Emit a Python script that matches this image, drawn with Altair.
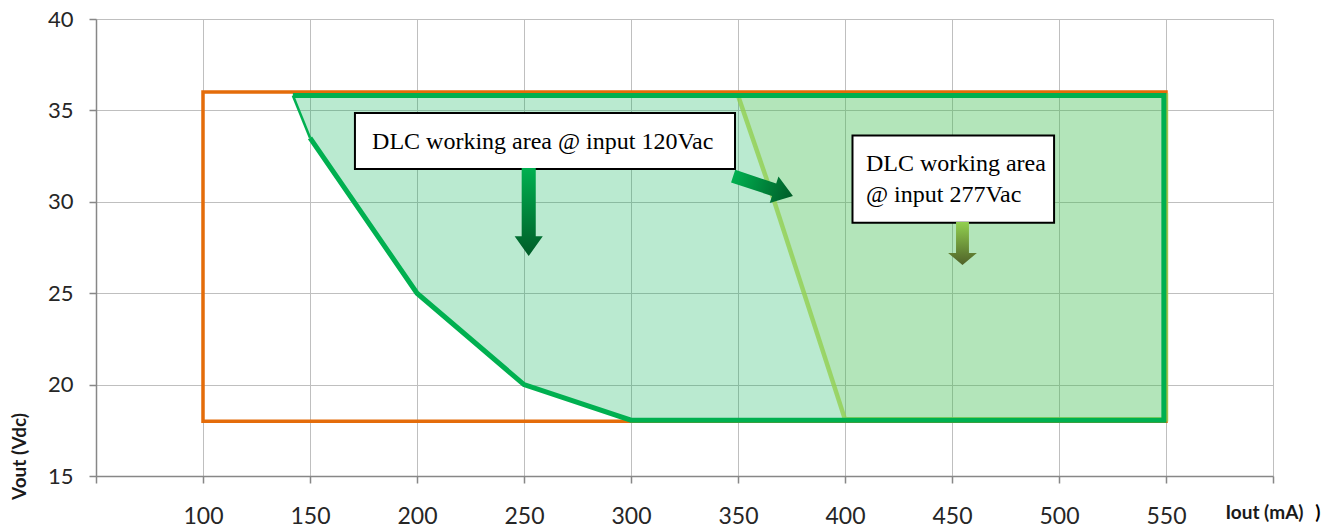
import altair as alt
import pandas as pd

# ---------------- data ----------------
x_ticks = [50, 100, 150, 200, 250, 300, 350, 400, 450, 500, 550, 600]
y_ticks = [15, 20, 25, 30, 35, 40]

# orange limit box (Iout mA, Vout Vdc)
limit_x1, limit_x2 = [100], [550]
limit_y1, limit_y2 = [18], [36]

# 120Vac working area (lower boundary, top at w120_top)
w120_x = [142, 150, 200, 250, 300, 549]
w120_y = [35.82, 33.5, 25, 20, 18.05, 18.05]
w120_top = 35.82

# 120Vac outline
o120_x = [150, 200, 250, 300, 549, 549, 142]
o120_y = [33.5, 25, 20, 18.05, 18.05, 35.82, 35.82]
o120_thin_x = [142, 150]
o120_thin_y = [35.82, 33.5]

# 277Vac working area
w277_x = [350, 367, 400, 550]
w277_y = [35.82, 30, 18.1, 18.1]
w277_top = 35.82
o277_x = [350, 367, 400, 550, 550, 350]
o277_y = [35.82, 30, 18.1, 18.1, 35.82, 35.82]

# annotation boxes
box_x1 = [171.0, 403.5]
box_x2 = [348.6, 497.7]
box_y1 = [34.86, 33.63]
box_y2 = [31.79, 28.86]
label_text = ["DLC working area @ input 120Vac", "DLC working area\n@ input 277Vac"]
label_x = [179.0, 409.8]
label_y = [32.89, 31.68]

# arrows (centre positions)
arrow_x = [252.2, 361.7, 454.9]
arrow_y = [29.44, 30.86, 27.72]

# stray character next to axis title
stray_text = [")"]
stray_x = [621]
stray_y = [13.0]

# ---------------- chart ----------------
FONT = "Lato"
xscale = alt.Scale(domain=[50, 600], nice=False, zero=False)
yscale = alt.Scale(domain=[15, 40], nice=False, zero=False)

xaxis = alt.Axis(
    values=x_ticks,
    labelExpr="(datum.value < 100 || datum.value > 550) ? '' : datum.label",
    title="Iout (mA)", titleX=1168, titleY=36, titleAlign="center",
    titleBaseline="middle", titleAngle=0,
    labelPadding=22, tickSize=7, labelFontSize=23,
)
yaxis = alt.Axis(
    values=y_ticks, title="Vout (Vdc)", titleX=-77, titleY=437,
    titleAngle=270, titleAlign="center", titleBaseline="middle",
    labelPadding=16, tickSize=7, labelFontSize=22,
)


def X(field="x"):
    return alt.X(f"{field}:Q", scale=xscale, axis=xaxis)


def Y(field="y"):
    return alt.Y(f"{field}:Q", scale=yscale, axis=yaxis)


base_grid = alt.Chart(pd.DataFrame({"x": [50], "y": [15]})).mark_point(opacity=0).encode(x=X(), y=Y())

df120 = pd.DataFrame({"x": w120_x, "y": w120_y, "y2": [w120_top] * len(w120_x)})
area120 = alt.Chart(df120).mark_area(color="#00B050", opacity=0.27).encode(
    x=X(), y=Y(), y2="y2:Q")

df277 = pd.DataFrame({"x": w277_x, "y": w277_y, "y2": [w277_top] * len(w277_x)})
area277 = alt.Chart(df277).mark_area(color="#92D050", opacity=0.17).encode(
    x=X(), y=Y(), y2="y2:Q")

dfl = pd.DataFrame({"x": limit_x1, "x2": limit_x2, "y": limit_y1, "y2": limit_y2})
limit = alt.Chart(dfl).mark_rect(filled=False, stroke="#E46C0A", strokeWidth=3.5).encode(
    x=X(), x2="x2:Q", y=Y(), y2="y2:Q")

do277 = pd.DataFrame({"x": o277_x, "y": o277_y, "o": list(range(len(o277_x)))})
line277 = alt.Chart(do277).mark_line(color="#92D050", strokeWidth=4.5, opacity=0.8).encode(
    x=X(), y=Y(), order="o:Q")

do120 = pd.DataFrame({"x": o120_x, "y": o120_y, "o": list(range(len(o120_x)))})
line120 = alt.Chart(do120).mark_line(color="#00B050", strokeWidth=5).encode(
    x=X(), y=Y(), order="o:Q")

dthin = pd.DataFrame({"x": o120_thin_x, "y": o120_thin_y, "o": [0, 1]})
thin120 = alt.Chart(dthin).mark_line(color="#00B050", strokeWidth=2.5).encode(
    x=X(), y=Y(), order="o:Q")

dbox = pd.DataFrame({"x": box_x1, "x2": box_x2, "y": box_y1, "y2": box_y2})
boxes = alt.Chart(dbox).mark_rect(fill="white", stroke="black", strokeWidth=2).encode(
    x=X(), x2="x2:Q", y=Y(), y2="y2:Q")

dlab = pd.DataFrame({"x": label_x, "y": label_y, "t": label_text})
labels = alt.Chart(dlab).mark_text(
    font="Liberation Serif", fontSize=24, align="left", baseline="alphabetic",
    lineBreak="\n", lineHeight=31, color="black").encode(x=X(), y=Y(), text="t:N")


def grad(c0, c1):
    return alt.LinearGradient(
        gradient="linear",
        stops=[alt.GradientStop(color=c0, offset=0), alt.GradientStop(color=c1, offset=1)],
        x1=0, x2=0, y1=0, y2=1)


arrow_shapes = [
    "M-0.16,-1L0.16,-1L0.16,0.55L0.32,0.55L0,1L-0.32,0.55L-0.16,0.55Z",
    "M-0.21,-1L0.21,-1L0.21,0.37L0.44,0.37L0,1L-0.44,0.37L-0.21,0.37Z",
    "M-0.3,-1L0.3,-1L0.3,0.44L0.67,0.44L0,1L-0.67,0.44L-0.3,0.44Z",
]
arrow_sizes = [7744, 3969, 1849]
arrow_angles = [0, 288.4, 0]
arrow_cols = [("#00B050", "#005C28"), ("#00B050", "#005C28"), ("#92D050", "#4F6228")]

arrows = []
for i in range(3):
    d = pd.DataFrame({"x": [arrow_x[i]], "y": [arrow_y[i]]})
    arrows.append(
        alt.Chart(d).mark_point(
            shape=arrow_shapes[i], filled=True, fill=grad(*arrow_cols[i]),
            strokeWidth=0, opacity=1, size=arrow_sizes[i], angle=arrow_angles[i],
        ).encode(x=X(), y=Y())
    )

dstray = pd.DataFrame({"x": stray_x, "y": stray_y, "t": stray_text})
stray = alt.Chart(dstray).mark_text(font=FONT, fontSize=19, fontWeight="bold",
                                    color="black", baseline="middle").encode(
    x=X(), y=Y(), text="t:N")

chart = alt.layer(
    base_grid, area120, area277, limit, line277, line120, thin120,
    boxes, labels, *arrows, stray
).properties(
    width=1177, height=457,
    autosize=alt.AutoSizeParams(type="none"),
    padding={"left": 88, "top": 11, "right": 55, "bottom": 70},
).configure_view(stroke=None).configure_axis(
    gridColor="#BFBFBF", gridWidth=1,
    domainColor="#878787", domainWidth=1.5,
    tickColor="#878787", tickWidth=1.5,
    labelFont=FONT, labelColor="#262626",
    titleFont=FONT, titleFontSize=19, titleFontWeight="bold", titleColor="#1a1a1a",
)

chart.save("out.html", embed_options={"renderer": "svg", "actions": False})
